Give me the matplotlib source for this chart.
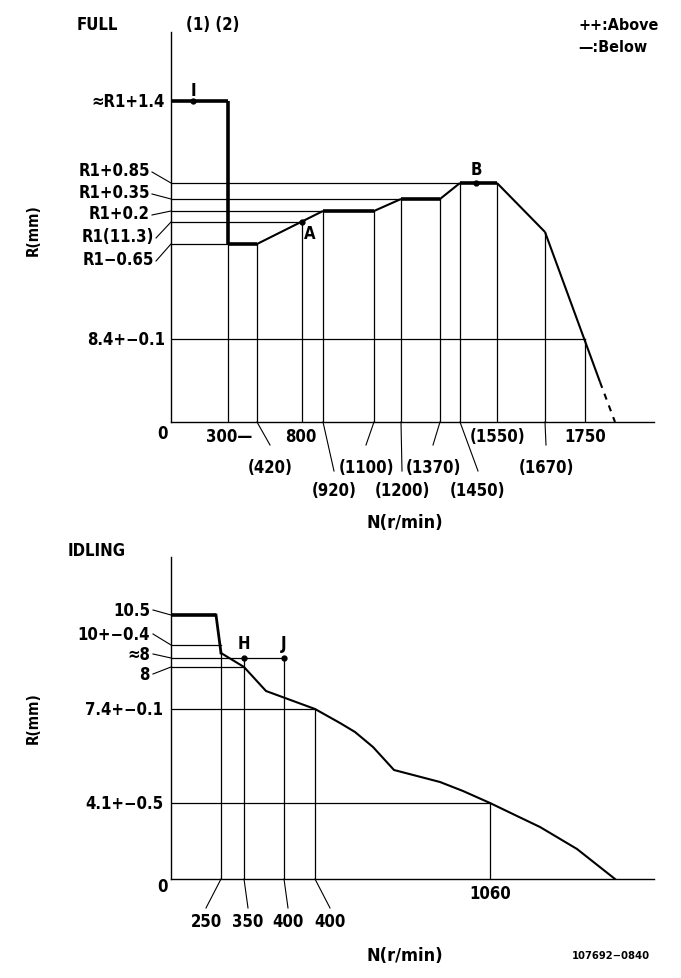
import matplotlib

matplotlib.use("Agg")
import matplotlib.pyplot as plt  # noqa: E402

W, H = 681, 979
plt.rcParams["font.family"] = ["DejaVu Sans"]
plt.rcParams["font.stretch"] = "condensed"
plt.rcParams["font.weight"] = "bold"

# ---- FULL governor curve (schematic units: N along x, R along y) ----
full_n = [0, 57, 57, 86, 152, 203, 230, 269, 289, 326, 374, 429]
full_r = [321, 321, 178, 178, 211, 211, 223, 223, 239, 239, 190, 40]
full_bold = [True, True, True, False, True, False, True, False, True, False, False]
full_tail_n = [429, 444]
full_tail_r = [40, 0]

full_r_levels = [321, 239, 223, 211, 200, 178, 83]
full_r_labels = ["≈R1+1.4", "R1+0.85", "R1+0.35", "R1+0.2", "R1(11.3)", "R1−0.65", "8.4+−0.1"]
full_r_ends = [0, 289, 230, 152, 131, 57, 414]

full_n_pos = [57, 86, 131, 152, 203, 230, 269, 289, 326, 374, 414]
full_n_labels = ["300—", "(420)", "800", "(920)", "(1100)", "(1200)", "(1370)",
                 "(1450)", "(1550)", "(1670)", "1750"]
full_n_tops = [178, 178, 200, 211, 211, 223, 223, 239, 239, 190, 83]
full_n_row = [0, 1, 0, 2, 1, 2, 1, 2, 0, 1, 0]

full_pts = {"I": (22, 321), "A": (131, 200), "B": (305, 239)}

# ---- IDLING curve ----
idle_n = [0, 45, 50, 73, 95, 144, 169, 184, 202, 223, 246, 269, 292, 319, 346, 369, 406, 444]
idle_r = [264, 264, 226, 212, 188, 170, 156, 147, 132, 109, 103, 97, 88, 76, 63, 52, 30, 0]

idle_r_levels = [264, 234, 221, 212, 170, 76]
idle_r_labels = ["10.5", "10+−0.4", "≈8", "8", "7.4+−0.1", "4.1+−0.5"]
idle_r_ends = [0, 50, 113, 73, 144, 319]

idle_n_pos = [50, 73, 113, 144, 319]
idle_n_labels = ["250", "350", "400", "400", "1060"]
idle_n_tops = [226, 221, 221, 170, 76]

idle_pts = {"H": (73, 221), "J": (113, 221)}

# ---- layout (label placement only) ----
full_rlab_y = [321, 252, 230, 209, 186, 163, 83]
full_rlab_x = [-6, -21, -21, -21, -17, -17, -6]
full_nlab_x = [58, 99, 130, 163, 195, 231, 262, 307, 327, 375, 414]
row_y = [-14, -45, -68]
row_lead = [None, -29, -55]

idle_rlab_y = [269, 245, 225, 205, 170, 76]
idle_rlab_x = [-21, -21, -21, -21, -8, -8]
idle_nlab_x = [35, 77, 117, 159, 319]

FS = 12
THIN = 0.9


def frac(px, py):
    return px / W, 1 - py / H


fig = plt.figure(figsize=(W / 100, H / 100), dpi=100)
fig.patch.set_facecolor("white")


def make_ax(top_px, bottom_px):
    ax = fig.add_axes([171 / W, 1 - bottom_px / H, 483 / W, (bottom_px - top_px) / H])
    ax.set_xlim(0, 483)
    ax.set_ylim(0, bottom_px - top_px)
    for s in ("top", "right"):
        ax.spines[s].set_visible(False)
    for s in ("left", "bottom"):
        ax.spines[s].set_linewidth(1.0)
    ax.set_xticks([])
    ax.set_yticks([])
    ax.patch.set_alpha(0)
    return ax


# ================= FULL =================
ax = make_ax(33, 423)
for lvl, end in zip(full_r_levels[1:], full_r_ends[1:]):
    ax.plot([0, end], [lvl, lvl], color="black", lw=THIN)
for x, top in zip(full_n_pos, full_n_tops):
    ax.plot([x, x], [0, top], color="black", lw=THIN)
for i, bold in enumerate(full_bold):
    ax.plot(full_n[i:i + 2], full_r[i:i + 2], color="black",
            lw=2.6 if bold else 1.5, solid_capstyle="butt")
ax.plot(full_tail_n, full_tail_r, color="black", lw=1.5, ls=(0, (3, 3)))

for lab, lvl, ly, lx in zip(full_r_labels, full_r_levels, full_rlab_y, full_rlab_x):
    ax.text(lx, ly, lab, ha="right", va="center", fontsize=FS, clip_on=False)
    if lx < -10:
        ax.plot([lx + 2, 0], [ly - 2, lvl], color="black", lw=0.8, clip_on=False)
ax.text(-9, -11, "0", ha="center", va="center", fontsize=FS, clip_on=False)

for lab, x, row, tx in zip(full_n_labels, full_n_pos, full_n_row, full_nlab_x):
    ax.text(tx, row_y[row], lab, ha="center", va="center", fontsize=FS, clip_on=False)
    if row_lead[row] is not None:
        ax.plot([x, tx], [0, row_lead[row] + 6], color="black", lw=0.8, clip_on=False)

for name, (px, py) in full_pts.items():
    ax.plot(px, py, "o", color="black", ms=3.5)
ax.text(22, 332, "I", ha="center", va="center", fontsize=FS)
ax.text(139, 189, "A", ha="center", va="center", fontsize=FS)
ax.text(305, 253, "B", ha="center", va="center", fontsize=FS)

fig.text(*frac(97, 25), "FULL", ha="center", va="center", fontsize=FS)
fig.text(*frac(213, 25), "(1) (2)", ha="center", va="center", fontsize=FS)
fig.text(*frac(578, 26), "++:Above", ha="left", va="center", fontsize=FS - 0.5)
fig.text(*frac(578, 48), "—:Below", ha="left", va="center", fontsize=FS - 0.5)
fig.text(*frac(33, 230), "R(mm)", ha="center", va="center", fontsize=FS - 1, rotation=90)
fig.text(*frac(405, 523), "N(r/min)", ha="center", va="center", fontsize=FS + 1)

# ================= IDLING =================
bx = make_ax(558, 880)
for lvl, end in zip(idle_r_levels[1:], idle_r_ends[1:]):
    bx.plot([0, end], [lvl, lvl], color="black", lw=THIN)
for x, top in zip(idle_n_pos, idle_n_tops):
    bx.plot([x, x], [0, top], color="black", lw=THIN)
bx.plot(idle_n[:2], idle_r[:2], color="black", lw=2.6, solid_capstyle="butt")
bx.plot(idle_n[1:3], idle_r[1:3], color="black", lw=2.0)
bx.plot(idle_n[2:], idle_r[2:], color="black", lw=1.5)

for lab, lvl, ly, lx in zip(idle_r_labels, idle_r_levels, idle_rlab_y, idle_rlab_x):
    bx.text(lx, ly, lab, ha="right", va="center", fontsize=FS, clip_on=False)
    if lx < -10:
        bx.plot([lx + 3, 0], [ly, lvl], color="black", lw=0.8, clip_on=False)
bx.text(-9, -7, "0", ha="center", va="center", fontsize=FS, clip_on=False)

for lab, x, tx in zip(idle_n_labels[:4], idle_n_pos[:4], idle_nlab_x[:4]):
    bx.text(tx, -42, lab, ha="center", va="center", fontsize=FS, clip_on=False)
    bx.plot([x, tx], [0, -29], color="black", lw=0.8, clip_on=False)
bx.text(idle_nlab_x[4], -14, idle_n_labels[4], ha="center", va="center",
        fontsize=FS, clip_on=False)

for name, (px, py) in idle_pts.items():
    bx.plot(px, py, "o", color="black", ms=3.5)
    bx.text(px, py + 15, name, ha="center", va="center", fontsize=FS)

fig.text(*frac(97, 551), "IDLING", ha="center", va="center", fontsize=FS)
fig.text(*frac(33, 718), "R(mm)", ha="center", va="center", fontsize=FS - 1, rotation=90)
fig.text(*frac(405, 956), "N(r/min)", ha="center", va="center", fontsize=FS + 1)
fig.text(*frac(650, 956), "107692−0840", ha="right", va="center", fontsize=FS - 4)

fig.savefig("out.png", dpi=100, facecolor="white")
